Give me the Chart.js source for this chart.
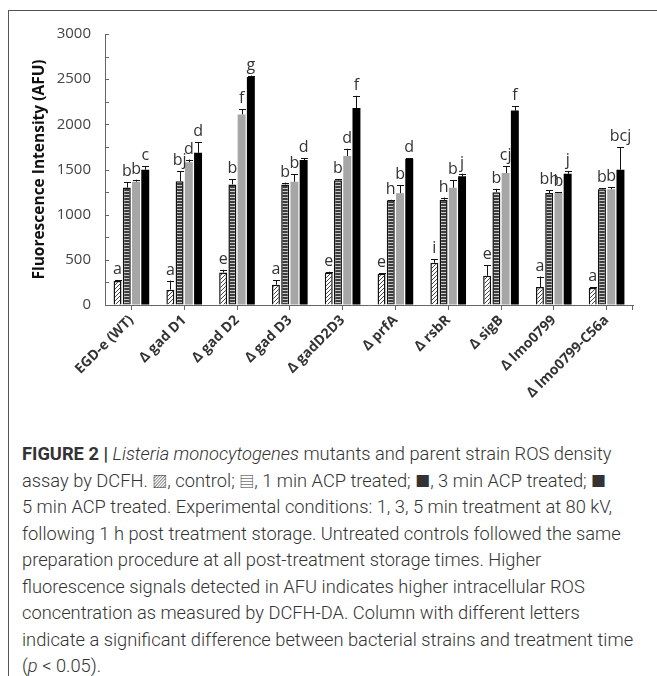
<!DOCTYPE html>
<html>
<head>
<meta charset="utf-8">
<script src="https://cdn.jsdelivr.net/npm/chart.js@4.4.1/dist/chart.umd.min.js"></script>
<style>
  html, body { margin: 0; padding: 0; background: #fff; }
  body { width: 657px; height: 676px; position: relative; overflow: hidden; }
  #frame { position: absolute; left: 8px; top: 10px; width: 700px; height: 720px; border: 1.5px solid #555; }
  #chart { position: absolute; left: 0; top: 0; }
  #caption {
    position: absolute; left: 22px; top: 441px; width: 630px;
    font-family: Roboto, "Liberation Sans", sans-serif; font-weight: 300;
    font-size: 18.3px; line-height: 26.5px; color: #333; white-space: nowrap;
  }
  #caption b { font-weight: 700; }
  .sym { font-family: "Noto Sans CJK SC", "DejaVu Sans", sans-serif; font-size: 15px; line-height: 0; }
</style>
</head>
<body>
<div id="frame"></div>
<canvas id="chart" width="657" height="420"></canvas>
<div id="caption">
<b>FIGURE 2 |</b> <i>Listeria monocytogenes</i> mutants and parent strain ROS density<br>
assay by DCFH. <span class="sym">▨</span>, control; <span class="sym">▤</span>, 1 min ACP treated; <span class="sym">■</span>, 3 min ACP treated; <span class="sym">■</span><br>
5 min ACP treated. Experimental conditions: 1, 3, 5 min treatment at 80 kV,<br>
following 1 h post treatment storage. Untreated controls followed the same<br>
preparation procedure at all post-treatment storage times. Higher<br>
fluorescence signals detected in AFU indicates higher intracellular ROS<br>
concentration as measured by DCFH-DA. Column with different letters<br>
indicate a significant difference between bacterial strains and treatment time<br>
(<i>p</i> &lt; 0.05).
</div>
<script>
// strains on the x axis
const strains = ['EGD-e (WT)', 'Δ gad D1', 'Δ gad D2', 'Δ gad D3', 'Δ gadD2D3',
                 'Δ prfA', 'Δ rsbR', 'Δ sigB', 'Δ lmo0799', 'Δ lmo0799-C56a'];

// mean fluorescence (AFU) per treatment
const control = [265, 170, 360, 225, 360, 345, 468, 323, 200, 190];
const min1    = [1300, 1370, 1335, 1335, 1380, 1160, 1165, 1248, 1240, 1282];
const min3    = [1365, 1580, 2110, 1365, 1650, 1238, 1298, 1460, 1242, 1282];
const min5    = [1497, 1685, 2525, 1605, 2180, 1620, 1424, 2152, 1452, 1497];

// upper error bars
const controlErr = [8, 100, 30, 48, 8, 6, 40, 120, 115, 8];
const min1Err    = [62, 110, 55, 20, 10, 5, 25, 38, 32, 8];
const min3Err    = [22, 30, 55, 85, 80, 85, 82, 78, 4, 20];
const min5Err    = [40, 120, 15, 18, 136, 5, 30, 48, 32, 252];

// significance letters
const controlSig = ['a', 'a', 'e', 'a', 'e', 'e', 'i', 'e', 'a', 'a'];
const min1Sig    = ['b', 'bj', 'b', 'b', 'b', 'h', 'h', 'b', 'bh', 'b'];
const min3Sig    = ['b', 'd', 'f', 'b', 'd', 'b', 'b', 'cj', 'b', 'b'];
const min5Sig    = ['c', 'd', 'g', 'd', 'f', 'd', 'j', 'f', 'j', 'bcj'];

const yTicks = [0, 500, 1000, 1500, 2000, 2500, 3000];

const canvas = document.getElementById('chart');
const ctx = canvas.getContext('2d');

// diagonal hatch for the control bars
function hatchPattern() {
    const c = document.createElement('canvas');
    c.width = 4; c.height = 4;
    const g = c.getContext('2d');
    g.fillStyle = '#fff';
    g.fillRect(0, 0, 4, 4);
    g.strokeStyle = '#444';
    g.lineWidth = 1;
    g.beginPath();
    g.moveTo(0, 4); g.lineTo(4, 0);
    g.moveTo(-1, 1); g.lineTo(1, -1);
    g.moveTo(3, 5); g.lineTo(5, 3);
    g.stroke();
    return ctx.createPattern(c, 'repeat');
}

// horizontal stripes for the 1 min bars
function stripePattern() {
    const c = document.createElement('canvas');
    c.width = 2; c.height = 3;
    const g = c.getContext('2d');
    g.fillStyle = '#3d3d3d';
    g.fillRect(0, 0, 2, 3);
    g.fillStyle = '#c8c8c8';
    g.fillRect(0, 2, 2, 1);
    return ctx.createPattern(c, 'repeat');
}

const errors = [controlErr, min1Err, min3Err, min5Err];
const letters = [controlSig, min1Sig, min3Sig, min5Sig];

// error whiskers, letters and inward y ticks
const extras = {
    id: 'extras',
    afterDatasetsDraw(chart) {
        const c = chart.ctx;
        const y = chart.scales.y;
        const x = chart.scales.x;
        c.save();
        chart.data.datasets.forEach((ds, i) => {
            const meta = chart.getDatasetMeta(i);
            meta.data.forEach((bar, j) => {
                const top = y.getPixelForValue(ds.data[j] + errors[i][j]);
                c.strokeStyle = '#111';
                c.lineWidth = 1;
                c.beginPath();
                c.moveTo(Math.round(bar.x) + 0.5, bar.y);
                c.lineTo(Math.round(bar.x) + 0.5, top);
                c.moveTo(Math.round(bar.x) - 3, Math.round(top) + 0.5);
                c.lineTo(Math.round(bar.x) + 4, Math.round(top) + 0.5);
                c.stroke();
                c.fillStyle = '#333';
                c.font = '16px "Open Sans"';
                c.textAlign = 'center';
                c.textBaseline = 'alphabetic';
                c.fillText(letters[i][j], bar.x, top - 6);
            });
        });
        // small inward ticks on the y axis
        c.strokeStyle = '#666';
        c.lineWidth = 1;
        c.beginPath();
        y.ticks.forEach(t => {
            const py = Math.round(y.getPixelForValue(t.value)) + 0.5;
            c.moveTo(y.right, py);
            c.lineTo(y.right + 4, py);
        });
        // closing tick at the right end of the x axis
        c.moveTo(x.right - 0.5, x.top);
        c.lineTo(x.right - 0.5, x.top + 5);
        c.stroke();
        c.restore();
    }
};

new Chart(ctx, {
    type: 'bar',
    data: {
        labels: strains,
        datasets: [
            { label: 'control', data: control, backgroundColor: hatchPattern(), borderColor: '#111', borderWidth: 1.5 },
            { label: '1 min ACP treated', data: min1, backgroundColor: stripePattern(), borderColor: '#111', borderWidth: 1.5 },
            { label: '3 min ACP treated', data: min3, backgroundColor: '#a6a6a6', borderWidth: 0 },
            { label: '5 min ACP treated', data: min5, backgroundColor: '#000', borderWidth: 0 }
        ]
    },
    options: {
        responsive: false,
        animation: false,
        categoryPercentage: 0.7,
        barPercentage: 0.86,
        layout: { padding: { left: 0, right: 24, top: 34, bottom: 0 } },
        plugins: {
            legend: { display: false },
            tooltip: { enabled: false }
        },
        scales: {
            x: {
                afterFit: s => { s.height = 115; },
                grid: { offset: false, drawOnChartArea: false, drawTicks: true, tickLength: 5, color: '#666' },
                border: { color: '#666', width: 1 },
                ticks: {
                    minRotation: 45, maxRotation: 45, autoSkip: false, padding: 2,
                    color: '#333',
                    font: { family: '"Open Sans"', size: 14, weight: 'bold' }
                }
            },
            y: {
                min: 0, max: 3000,
                afterFit: s => { s.width = 105; },
                grid: { drawOnChartArea: false, drawTicks: false },
                border: { color: '#666', width: 1 },
                ticks: {
                    stepSize: 250, padding: 14, color: '#444',
                    font: { family: '"Open Sans"', size: 15 },
                    callback: v => yTicks.includes(v) ? v : ''
                },
                title: {
                    display: true, text: 'Fluorescence Intensity (AFU)',
                    color: '#111', padding: { top: 30, bottom: 0 },
                    font: { family: '"Open Sans"', size: 15.5, weight: 'bold' }
                }
            }
        }
    },
    plugins: [extras]
});
</script>
</body>
</html>
